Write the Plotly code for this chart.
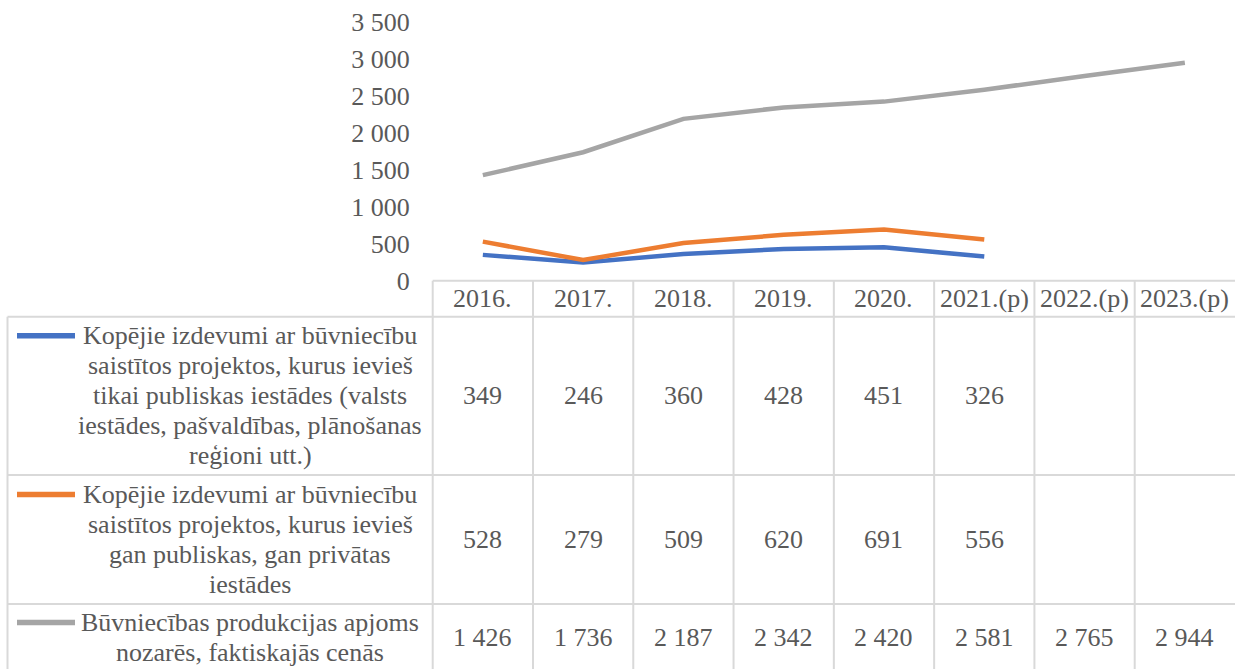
import plotly.graph_objects as go

# ---- data ----
categories = ["2016.", "2017.", "2018.", "2019.", "2020.", "2021.(p)", "2022.(p)", "2023.(p)"]
public_only = [349, 246, 360, 428, 451, 326, None, None]
public_private = [528, 279, 509, 620, 691, 556, None, None]
production = [1426, 1736, 2187, 2342, 2420, 2581, 2765, 2944]

series_names = [
    ["Kopējie izdevumi ar būvniecību", "saistītos projektos, kurus ievieš",
     "tikai publiskas iestādes (valsts", "iestādes, pašvaldības, plānošanas", "reģioni utt.)"],
    ["Kopējie izdevumi ar būvniecību", "saistītos projektos, kurus ievieš",
     "gan publiskas, gan privātas", "iestādes"],
    ["Būvniecības produkcijas apjoms", "nozarēs, faktiskajās cenās"],
]
series_values = [public_only, public_private, production]
series_colors = ["#4472C4", "#ED7D31", "#A5A5A5"]
y_ticks = [0, 500, 1000, 1500, 2000, 2500, 3000, 3500]

# ---- layout geometry (pixels) ----
W, H = 1235, 669
FONT = "Liberation Serif, Times New Roman, serif"
FS = 26
LINE_H = 30
TXT = "#595959"
GRID = "#D9D9D9"

def py(px):
    return (H - px) / H

def pxx(px):
    return px / W

x_dom = [432.7 / W, 1.0]
y_dom = [py(280.7), py(21.7)]

header_top = 280.7
header_bot = 316.7
row_bounds = [316.7, 475, 604, 671]
table_left = 7.5

fig = go.Figure()
for name, vals, col in zip(series_names, series_values, series_colors):
    fig.add_trace(go.Scatter(
        x=categories, y=vals, mode="lines", name=" ".join(name),
        line=dict(color=col, width=4.5), connectgaps=False, hoverinfo="skip",
        showlegend=False,
    ))

shapes = []
line_style = dict(color=GRID, width=2)
shapes.append(dict(type="line", xref="paper", yref="paper", x0=x_dom[0], x1=1.0,
                   y0=py(header_top), y1=py(header_top), line=line_style))
for yb in row_bounds[:-1]:
    shapes.append(dict(type="line", xref="paper", yref="paper", x0=pxx(table_left), x1=1.0,
                       y0=py(yb), y1=py(yb), line=line_style))
shapes.append(dict(type="line", xref="paper", yref="paper", x0=pxx(table_left), x1=pxx(table_left),
                   y0=py(header_bot), y1=0, line=line_style))
shapes.append(dict(type="line", xref="paper", yref="paper", x0=x_dom[0], x1=x_dom[0],
                   y0=py(header_top), y1=0, line=line_style))
for i in range(1, len(categories)):
    shapes.append(dict(type="line", xref="x", yref="paper", x0=i - 0.5, x1=i - 0.5,
                       y0=py(header_top), y1=0, line=line_style))

annotations = []
font = dict(family=FONT, size=FS, color=TXT)
for i, c in enumerate(categories):
    annotations.append(dict(x=i, xref="x", y=py((header_top + header_bot) / 2), yref="paper",
                            text=c, showarrow=False, font=font, xanchor="center", yanchor="middle"))
for r, (name, vals, col) in enumerate(zip(series_names, series_values, series_colors)):
    top, bot = row_bounds[r], row_bounds[r + 1]
    ymid = (top + bot) / 2
    n = len(name)
    first_line_y = ymid - (n - 1) * LINE_H / 2
    for k, line in enumerate(name):
        annotations.append(dict(x=pxx(250), xref="paper", y=py(first_line_y + k * LINE_H),
                                yref="paper", text=line, showarrow=False, font=font,
                                xanchor="center", yanchor="middle"))
    shapes.append(dict(type="line", xref="paper", yref="paper", x0=pxx(17), x1=pxx(75),
                       y0=py(first_line_y), y1=py(first_line_y),
                       line=dict(color=col, width=5.5)))
    for i, v in enumerate(vals):
        if v is None:
            continue
        annotations.append(dict(x=i, xref="x", y=py(ymid), yref="paper",
                                text=f"{v:,}".replace(",", " "), showarrow=False, font=font,
                                xanchor="center", yanchor="middle"))

fig.update_layout(
    width=W, height=H, autosize=False,
    margin=dict(l=0, r=0, t=0, b=0, pad=0, autoexpand=False),
    paper_bgcolor="white", plot_bgcolor="white",
    separators=". ",
    xaxis=dict(domain=x_dom, range=[-0.5, 7.5], type="category", categoryorder="array",
               categoryarray=categories, showticklabels=False, showgrid=False,
               zeroline=False, showline=False, ticks="", automargin=False),
    yaxis=dict(domain=y_dom, range=[0, 3500], tickvals=y_ticks, tickformat=",d",
               showgrid=False, zeroline=False, showline=False, ticks="",
               ticklabelstandoff=22, tickfont=font, automargin=False),
    shapes=shapes,
    annotations=annotations,
    showlegend=False,
)

fig.write_html("out.html", config={"displayModeBar": False},
               post_script="document.body.style.margin='0';")
